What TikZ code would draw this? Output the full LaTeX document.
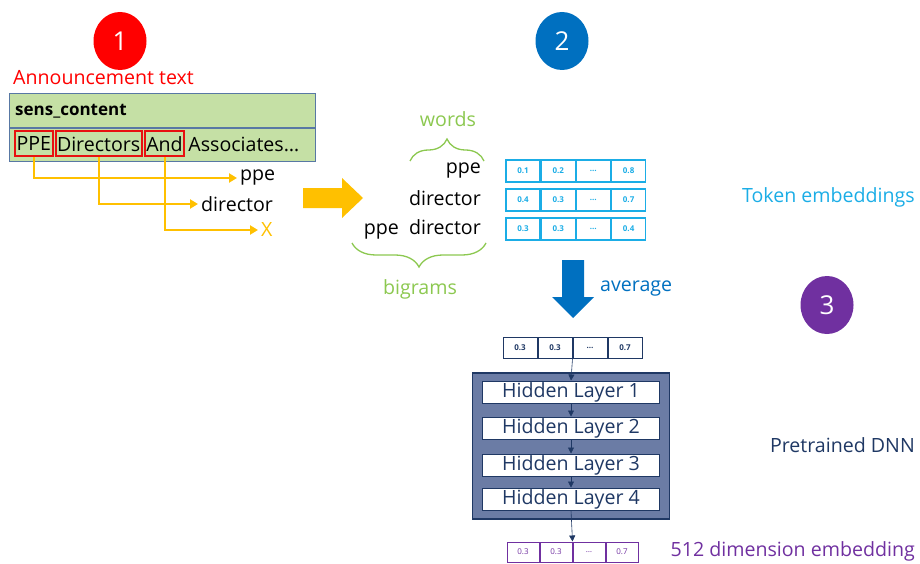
\documentclass[tikz,border=0pt]{standalone}
\usepackage{fontspec}
\setmainfont{Open Sans}
\usepackage{tikz}
\usetikzlibrary{arrows.meta}
\usetikzlibrary{positioning}
\usetikzlibrary{shapes.geometric}
\usetikzlibrary{decorations.pathreplacing}
\definecolor{annred}{HTML}{FF0000}
\definecolor{boxred}{HTML}{E81010}
\definecolor{tblgreen}{HTML}{C5E0A5}
\definecolor{tblblue}{HTML}{5878A4}
\definecolor{orng}{HTML}{FFC000}
\definecolor{blu}{HTML}{0070C0}
\definecolor{grn}{HTML}{8CC850}
\definecolor{cyn}{HTML}{1BADE6}
\definecolor{navy}{HTML}{1F3864}
\definecolor{dnnfill}{HTML}{6B7CA5}
\definecolor{purp}{HTML}{7030A0}

\tikzset{
  txt/.style={font=\fontsize{19.6}{22}\selectfont, inner sep=3pt},
  stepnum/.style={ellipse, minimum width=53, minimum height=58, inner sep=0, text=white, font=\fontsize{26}{28}\selectfont},
  wbox/.style={txt, draw=boxred, line width=2, inner xsep=1.5, inner ysep=0, minimum height=25},
  tcell/.style={draw=cyn, line width=1.2, text=cyn, minimum width=34, minimum height=22, inner sep=0, font=\fontsize{8}{9}\selectfont\bfseries},
  ncell/.style={draw=navy, line width=1, text=navy, minimum width=34, minimum height=21, inner sep=0, font=\fontsize{8}{9}\selectfont\bfseries},
  pcell/.style={draw=purp, line width=1, text=purp, minimum width=32, minimum height=20, inner sep=0, font=\fontsize{8}{9}\selectfont},
  hid/.style={txt, draw=navy, line width=1, fill=white, text=navy, minimum width=177, minimum height=22, inner sep=0},
  yarr/.style={orng, line width=2, -{Triangle[length=8, width=9]}},
  narr/.style={navy, line width=0.6, -{Triangle[length=6, width=6]}}
}

\begin{document}
\begin{tikzpicture}[x=1pt, y=-1pt]
  \useasboundingbox (0,0) rectangle (920,564);

  % step 1
  \node[stepnum, fill=annred] (one) at (120,41) {1};
  \node[txt, anchor=west, text=annred] (anntxt) at (10,78) {Announcement text};
  \node[draw=tblblue, fill=tblgreen, line width=1, minimum width=306, minimum height=34, inner sep=0, anchor=north west] (hdrow) at (9,93) {};
  \node[draw=tblblue, fill=tblgreen, line width=1, minimum width=306, minimum height=33, inner sep=0, below=0pt of hdrow] (txrow) {};
  \node[txt, anchor=west, font=\fontsize{17}{20}\selectfont\bfseries] (hdr) at (12,111) {sens\_content};
  \node[wbox, anchor=west] (wppe) at (14,144) {PPE};
  \node[wbox, right=1pt of wppe] (wdir) {Directors};
  \node[wbox, right=1pt of wdir] (wand) {And};
  \node[txt, right=0pt of wand] (wrest) {Associates…};

  \node[txt, anchor=west] (tppe) at (237,178) {ppe};
  \node[txt, anchor=west] (tdir) at (198,204) {director};
  \node[txt, anchor=west, text=orng] (tx) at (258,230) {X};
  \draw[yarr] (wppe.south) |- (tppe.west);
  \draw[yarr] (wdir.south) |- (tdir.west);
  \draw[yarr] (wand.south) |- (tx.west);

  \fill[orng] (303,188) -- (342,188) -- (342,178) -- (363,198) -- (342,218) -- (342,208) -- (303,208) -- cycle;

  % step 2
  \node[stepnum, fill=blu] (two) at (562,41) {2};
  \node[txt, anchor=east] (wd1) at (484,171) {ppe};
  \node[txt, anchor=east] (wd2) at (484,198) {director};
  \node[txt, anchor=east] (wd3) at (484,229) {ppe~~director};
  \draw[grn, line width=1.3, decorate, decoration={brace, amplitude=22}] (410,161) -- (484,161);
  \node[txt, text=grn] (words) at (448,119) {words};
  \draw[grn, line width=1.3, decorate, decoration={brace, amplitude=24}] (486,243) -- (352,243);
  \node[txt, text=grn] (bigr) at (420,289) {bigrams};

  \foreach \a/\b/\d [count=\r] in {0.1/0.2/0.8, 0.4/0.3/0.7, 0.3/0.3/0.4} {
    \node[tcell] (t\r a) at (523,{142+29*\r}) {\a};
    \node[tcell, right=0pt of t\r a] (t\r b) {\b};
    \node[tcell, right=0pt of t\r b] (t\r c) {…};
    \node[tcell, right=0pt of t\r c] (t\r d) {\d};
  }
  \node[txt, anchor=east, text=cyn] (tokl) at (918,197) {Token embeddings};

  \fill[blu] (562,260) -- (584,260) -- (584,297) -- (594,297) -- (573,318) -- (552,297) -- (562,297) -- cycle;
  \node[txt, anchor=west, text=blu] (avg) at (597,289) {average};

  % step 3
  \node[stepnum, fill=purp] (three) at (827,305) {3};
  \node[ncell] (in1) at (520,347.5) {0.3};
  \node[ncell, right=0pt of in1] (in2) {0.3};
  \node[ncell, right=0pt of in2] (in3) {…};
  \node[ncell, right=0pt of in3] (in4) {0.7};

  \node[draw=navy, fill=dnnfill, line width=1.2, minimum width=197, minimum height=146, inner sep=0] (dnn) at (571,446) {};
  \foreach \y [count=\k] in {392,428,465,499}
    \node[hid] (h\k) at (571,\y) {Hidden Layer \k};
  \draw[narr] (in2.south east) -- (h1.north);
  \foreach \k [evaluate=\k as \n using int(\k+1)] in {1,2,3}
    \draw[narr] (h\k.south) -- (h\n.north);

  \node[pcell] (o1) at (523,552) {0.3};
  \node[pcell, right=0pt of o1] (o2) {0.3};
  \node[pcell, right=0pt of o2] (o3) {…};
  \node[pcell, right=0pt of o3] (o4) {0.7};
  \draw[narr] (h4.south) -- (o2.north east);

  \node[txt, anchor=east, text=navy] (dnnl) at (918,445) {Pretrained DNN};
  \node[txt, anchor=east, text=purp] (embl) at (918,551) {512 dimension embedding};
\end{tikzpicture}
\end{document}
